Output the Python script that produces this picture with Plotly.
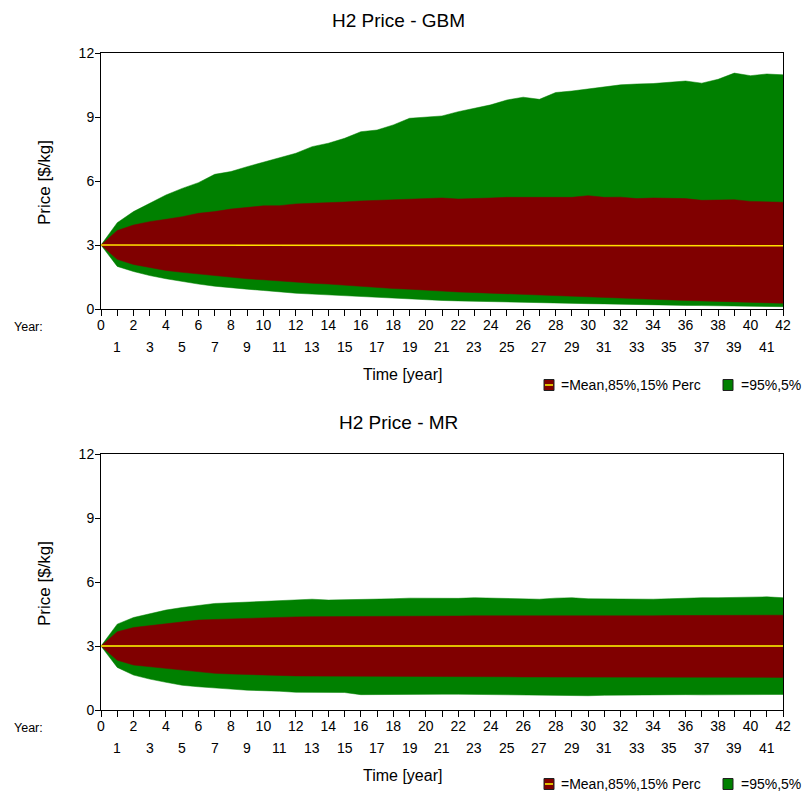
import plotly.graph_objects as go

# ---------------- data ----------------
years = list(range(43))

x_labels_even = ["0", "", "2", "", "4", "", "6", "", "8", "", "10", "", "12", "", "14", "", "16", "", "18", "", "20", "",
                 "22", "", "24", "", "26", "", "28", "", "30", "", "32", "", "34", "", "36", "", "38", "", "40", "", "42"]
odd_years = [1, 3, 5, 7, 9, 11, 13, 15, 17, 19, 21, 23, 25, 27, 29, 31, 33, 35, 37, 39, 41]
odd_labels = ["1", "3", "5", "7", "9", "11", "13", "15", "17", "19", "21", "23", "25", "27", "29", "31", "33", "35",
              "37", "39", "41"]
y_tick_vals = [0, 3, 6, 9, 12]
y_tick_text = ["0", "3", "6", "9", "12"]

gbm_p95 = [3.00, 4.05, 4.57, 4.96, 5.35, 5.66, 5.93, 6.32, 6.45, 6.68,
           6.89, 7.07, 7.31, 7.62, 7.78, 8.01, 8.32, 8.40, 8.64, 8.95,
           9.00, 9.06, 9.26, 9.42, 9.58, 9.81, 9.94, 9.84, 10.16, 10.23,
           10.33, 10.41, 10.52, 10.56, 10.58, 10.64, 10.70, 10.60, 10.78, 11.07,
           10.95, 11.03, 10.99]
gbm_p85 = [3.00, 3.68, 3.94, 4.10, 4.21, 4.33, 4.49, 4.57, 4.69, 4.76,
           4.84, 4.85, 4.93, 4.96, 4.98, 5.02, 5.07, 5.10, 5.12, 5.15,
           5.18, 5.21, 5.16, 5.20, 5.21, 5.24, 5.24, 5.22, 5.22, 5.24,
           5.32, 5.24, 5.25, 5.18, 5.21, 5.20, 5.18, 5.10, 5.12, 5.13,
           5.05, 5.04, 5.01]
gbm_mean = [3.00, 3.00, 3.00, 3.00, 3.00, 3.00, 3.00, 3.00, 3.00, 3.00,
            2.99, 2.99, 2.99, 2.99, 2.99, 2.99, 2.99, 2.98, 2.98, 2.98,
            2.98, 2.98, 2.98, 2.98, 2.98, 2.98, 2.98, 2.98, 2.97, 2.98,
            2.98, 2.97, 2.97, 2.97, 2.97, 2.97, 2.97, 2.97, 2.97, 2.97,
            2.97, 2.97, 2.97]
gbm_p15 = [3.00, 2.33, 2.09, 1.94, 1.81, 1.72, 1.64, 1.55, 1.48, 1.42,
           1.37, 1.31, 1.26, 1.21, 1.17, 1.11, 1.06, 1.01, 0.96, 0.93,
           0.90, 0.84, 0.80, 0.77, 0.73, 0.70, 0.67, 0.64, 0.61, 0.58,
           0.55, 0.52, 0.50, 0.47, 0.45, 0.42, 0.40, 0.38, 0.36, 0.34,
           0.31, 0.29, 0.27]
gbm_p5 = [3.00, 2.00, 1.76, 1.57, 1.42, 1.29, 1.17, 1.07, 0.99, 0.93,
          0.87, 0.80, 0.74, 0.70, 0.66, 0.62, 0.58, 0.54, 0.51, 0.47,
          0.43, 0.40, 0.38, 0.36, 0.35, 0.33, 0.31, 0.30, 0.28, 0.27,
          0.25, 0.24, 0.22, 0.21, 0.20, 0.18, 0.17, 0.16, 0.15, 0.14,
          0.13, 0.12, 0.11]

mr_p95 = [3.00, 4.03, 4.34, 4.53, 4.69, 4.81, 4.89, 5.00, 5.03, 5.06,
          5.08, 5.11, 5.16, 5.20, 5.16, 5.17, 5.19, 5.20, 5.22, 5.25,
          5.24, 5.24, 5.24, 5.27, 5.25, 5.22, 5.21, 5.20, 5.25, 5.27,
          5.22, 5.21, 5.22, 5.21, 5.20, 5.22, 5.26, 5.27, 5.27, 5.28,
          5.29, 5.31, 5.27]
mr_p85 = [3.00, 3.67, 3.87, 3.95, 4.06, 4.14, 4.22, 4.25, 4.28, 4.31,
          4.34, 4.36, 4.37, 4.38, 4.38, 4.38, 4.40, 4.40, 4.40, 4.40,
          4.40, 4.41, 4.41, 4.42, 4.41, 4.41, 4.42, 4.42, 4.41, 4.41,
          4.42, 4.42, 4.41, 4.42, 4.42, 4.43, 4.43, 4.43, 4.44, 4.44,
          4.45, 4.45, 4.45]
mr_mean = [3.00, 3.00, 3.00, 3.00, 3.00, 3.00, 3.00, 3.00, 3.00, 3.00,
           3.00, 3.00, 3.00, 3.00, 3.00, 3.00, 3.00, 3.00, 3.00, 3.00,
           3.00, 3.00, 3.00, 3.00, 3.00, 3.00, 3.00, 3.00, 3.00, 3.00,
           3.00, 3.00, 3.00, 3.00, 3.00, 3.00, 3.00, 3.00, 3.00, 3.00,
           3.00, 3.00, 3.00]
mr_p15 = [3.00, 2.34, 2.11, 2.03, 1.95, 1.88, 1.77, 1.72, 1.69, 1.66,
          1.64, 1.62, 1.60, 1.59, 1.59, 1.59, 1.58, 1.58, 1.58, 1.57,
          1.57, 1.57, 1.56, 1.56, 1.56, 1.56, 1.55, 1.55, 1.55, 1.55,
          1.55, 1.55, 1.54, 1.55, 1.55, 1.54, 1.54, 1.54, 1.54, 1.53,
          1.53, 1.53, 1.53]
mr_p5 = [3.00, 2.00, 1.64, 1.45, 1.30, 1.16, 1.09, 1.05, 0.98, 0.93,
         0.91, 0.88, 0.83, 0.82, 0.80, 0.82, 0.72, 0.73, 0.74, 0.75,
         0.75, 0.74, 0.74, 0.73, 0.73, 0.72, 0.72, 0.71, 0.69, 0.66,
         0.67, 0.69, 0.70, 0.71, 0.71, 0.71, 0.72, 0.71, 0.72, 0.72,
         0.73, 0.73, 0.73]

titles = ["H2 Price - GBM", "H2 Price - MR"]
y_title = "Price [$/kg]"
x_title = "Time [year]"
year_label = "Year:"
legend_labels = ["=Mean,85%,15% Perc", "=95%,5%"]

# ---------------- style ----------------
W, H = 802, 792
FONT = "Liberation Sans, Arial, sans-serif"
GREEN = "#008000"
RED = "#800000"
YELLOW_TOP = "#FFE000"
YELLOW_BOT = "#FFFF00"


def fx(px):
    return px / W


def fy(py):
    return 1 - py / H


X0, X1 = 101, 783
panels = [
    dict(top=53.3, bottom=309, off=0),
    dict(top=454.3, bottom=710, off=401),
]

fig = go.Figure()


def add_band(xa, ya, p5, p15, mean, p85, p95, mean_col):
    common = dict(x=years, xaxis=xa, yaxis=ya, showlegend=False, hoverinfo="skip", mode="lines")
    fig.add_trace(go.Scatter(y=p5, line=dict(color=GREEN, width=0.5), **common))
    fig.add_trace(go.Scatter(y=p95, fill="tonexty", fillcolor=GREEN, line=dict(color=GREEN, width=0.5), **common))
    fig.add_trace(go.Scatter(y=p15, line=dict(color=RED, width=0.5), **common))
    fig.add_trace(go.Scatter(y=p85, fill="tonexty", fillcolor=RED, line=dict(color=RED, width=0.5), **common))
    fig.add_trace(go.Scatter(y=mean, line=dict(color=mean_col, width=1.5), **common))


add_band("x", "y", gbm_p5, gbm_p15, gbm_mean, gbm_p85, gbm_p95, YELLOW_TOP)
add_band("x2", "y2", mr_p5, mr_p15, mr_mean, mr_p85, mr_p95, YELLOW_BOT)

tickfont = dict(family=FONT, size=14, color="black")
layout = dict(
    width=W, height=H, autosize=False,
    margin=dict(l=0, r=0, t=0, b=0, autoexpand=False),
    paper_bgcolor="white", plot_bgcolor="white",
    font=dict(family=FONT, color="black"),
    showlegend=False,
)

xdom = [fx(X0), fx(X1)]
for i, p in enumerate(panels):
    n = i + 1
    xs = "" if n == 1 else str(n)
    ydom = [fy(p["bottom"]), fy(p["top"])]
    layout["xaxis" + xs] = dict(
        domain=xdom, anchor="y" + xs, range=[0, 42], showgrid=False, zeroline=False,
        showline=True, linecolor="black", linewidth=1, mirror=True,
        ticks="outside", ticklen=6, tickcolor="black", tickwidth=1,
        tickmode="array", tickvals=years, ticktext=x_labels_even, tickfont=tickfont,
        tickangle=0, ticklabelstandoff=-3, fixedrange=True,
    )
    layout["yaxis" + xs] = dict(
        domain=ydom, anchor="x" + xs, range=[0, 12], showgrid=False, zeroline=False,
        showline=True, linecolor="black", linewidth=1, mirror=True,
        ticks="outside", ticklen=5, tickcolor="black", tickwidth=1,
        tickmode="array", tickvals=y_tick_vals, ticktext=y_tick_text, tickfont=tickfont,
        ticklabelstandoff=-2, fixedrange=True,
    )
    # overlay axes for the inner half of the cross-shaped ticks
    ox = str(n + 2)
    layout["xaxis" + ox] = dict(
        overlaying="x" + xs, anchor="y" + xs, side="bottom", range=[0, 42],
        showgrid=False, zeroline=False, showline=False,
        ticks="inside", ticklen=6, tickcolor="black", tickwidth=1,
        tickmode="array", tickvals=years, showticklabels=False, fixedrange=True,
    )
    layout["yaxis" + ox] = dict(
        overlaying="y" + xs, anchor="x" + xs, side="left", range=[0, 12],
        showgrid=False, zeroline=False, showline=False,
        ticks="inside", ticklen=6, tickcolor="black", tickwidth=1,
        tickmode="array", tickvals=y_tick_vals, showticklabels=False, fixedrange=True,
    )

fig.update_layout(**layout)

ann = []
shapes = []
for i, p in enumerate(panels):
    n = i + 1
    xs = "" if n == 1 else str(n)
    o = p["off"]
    # second row of x tick labels (odd years)
    for yv, lab in zip(odd_years, odd_labels):
        ann.append(dict(text=lab, x=yv, y=fy(347 + o), xref="x" + xs, yref="paper",
                        showarrow=False, xanchor="center", yanchor="middle",
                        font=tickfont))
    ann.append(dict(text=titles[i], x=fx(398), y=fy(21 + o), xref="paper", yref="paper",
                    showarrow=False, xanchor="center", yanchor="middle",
                    font=dict(family=FONT, size=19, color="black")))
    ann.append(dict(text=y_title, x=fx(44), y=fy(183 + o), xref="paper", yref="paper",
                    showarrow=False, xanchor="center", yanchor="middle", textangle=-90,
                    font=dict(family=FONT, size=17, color="black")))
    ann.append(dict(text=x_title, x=fx(403), y=fy(374 + o), xref="paper", yref="paper",
                    showarrow=False, xanchor="center", yanchor="middle",
                    font=dict(family=FONT, size=16, color="black")))
    ann.append(dict(text=year_label, x=fx(12), y=fy(327 + o), xref="paper", yref="paper",
                    showarrow=False, xanchor="left", yanchor="middle",
                    font=dict(family=FONT, size=12.5, color="black")))
    # legend
    ly = 385 + o - (2 if i == 1 else 0)
    ann.append(dict(text=legend_labels[0], x=fx(559), y=fy(ly), xref="paper", yref="paper",
                    showarrow=False, xanchor="left", yanchor="middle",
                    font=dict(family=FONT, size=14, color="black")))
    ann.append(dict(text=legend_labels[1], x=fx(739), y=fy(ly), xref="paper", yref="paper",
                    showarrow=False, xanchor="left", yanchor="middle",
                    font=dict(family=FONT, size=14, color="black")))
    shapes.append(dict(type="rect", xref="paper", yref="paper",
                       x0=fx(544), x1=fx(554), y0=fy(ly + 5.5), y1=fy(ly - 5.5),
                       fillcolor=RED, line=dict(color="#202020", width=1)))
    shapes.append(dict(type="line", xref="paper", yref="paper",
                       x0=fx(545), x1=fx(553), y0=fy(ly), y1=fy(ly),
                       line=dict(color=YELLOW_BOT, width=1.5)))
    shapes.append(dict(type="rect", xref="paper", yref="paper",
                       x0=fx(723), x1=fx(733), y0=fy(ly + 5.5), y1=fy(ly - 5.5),
                       fillcolor=GREEN, line=dict(color="#202020", width=1)))

fig.update_layout(annotations=ann, shapes=shapes)

fig.write_html(
    "out.html",
    config={"displayModeBar": False, "staticPlot": True},
    post_script="document.body.style.margin='0';document.body.style.overflow='hidden';",
)
